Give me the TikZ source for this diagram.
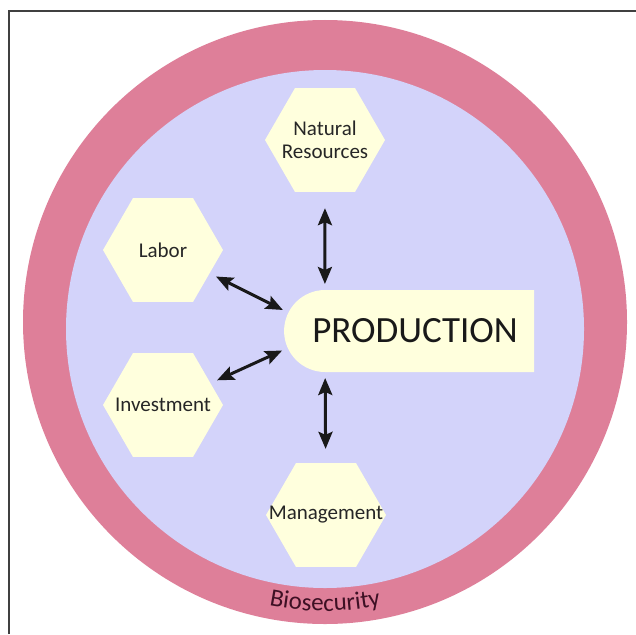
\documentclass[tikz,border=0pt]{standalone}
\usepackage{fontspec}
\setmainfont{Carlito}
\usepackage{tikz}
\usetikzlibrary{calc,shapes.geometric,shapes.misc,arrows.meta,decorations.text}

\definecolor{ringPink}{RGB}{222,127,153}
\definecolor{fieldBlue}{RGB}{211,211,250}
\definecolor{hexCream}{RGB}{255,255,221}
\definecolor{bioText}{RGB}{62,16,36}
\newcommand\biofont{\fontsize{25pt}{25pt}\selectfont\color{bioText}}
\newcommand\hexline[1]{\makebox[0pt]{#1}}

\begin{document}
\begin{tikzpicture}[x=1pt,y=-1pt,
    hexa/.style={regular polygon, regular polygon sides=6, minimum size=120pt,
                 inner sep=0pt, fill=hexCream, align=center,
                 font=\fontsize{21pt}{23pt}\selectfont, text=black!85},
    twoway/.style={{Stealth[length=17pt,width=14pt,inset=3pt]}-{Stealth[length=17pt,width=14pt,inset=3pt]},
                   line width=3pt, black!90, shorten <=7pt, shorten >=47pt}]
    \useasboundingbox (0,0) rectangle (636,634);
    % frame
    \draw [black!75, line width=1.6pt] (9,634) -- (9,11) -- (636,11);
    % rings
    \fill [ringPink] (325,322) circle (302);
    \fill [fieldBlue] (325,329) circle (259);
    \path [decorate, decoration={text along path, text align=center,
           text={|\biofont|Biosecurity}}]
          (325,322) ++(120:289) arc (120:60:289);
    % production
    \node [rounded rectangle, rounded rectangle right arc=none, fill=hexCream,
           minimum width=250pt, minimum height=82pt, inner sep=0pt,
           font=\fontsize{37pt}{37pt}\selectfont, text=black!90] (prod) at (410,331) {\hspace{10pt}PRODUCTION};
    \coordinate (hub) at ($(prod.west)+(41,0)$);
    % inputs
    \node [hexa] (nat) at (325,140) {\hexline{Natural}\\\hexline{Resources}};
    \node [hexa] (lab) at (163,250) {\hexline{Labor}};
    \node [hexa] (inv) at (163,405) {\hexline{Investment}};
    \node [hexa] (man) at (326,515) {\hexline{Management}};
    \draw [twoway, shorten <=16pt] (nat) -- (hub);
    \draw [twoway] (lab) -- (hub);
    \draw [twoway] (inv) -- (hub);
    \draw [twoway, shorten <=14pt] (man) -- (hub);
\end{tikzpicture}
\end{document}
